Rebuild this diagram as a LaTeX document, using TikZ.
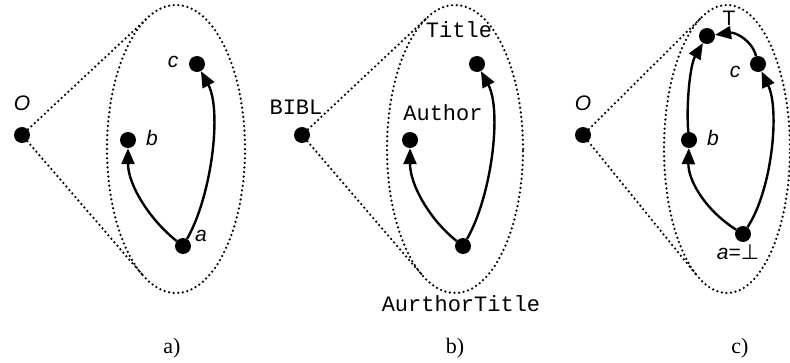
\documentclass[tikz,border=0pt]{standalone}
\usepackage{fontspec}
\setmainfont{Liberation Serif}
\newfontfamily\lsans{Liberation Sans}
\newfontfamily\lmono{Liberation Mono}
\newfontfamily\dvsans{DejaVu Sans}
\usetikzlibrary{shapes.geometric,arrows.meta}
\tikzset{
  dotnode/.style={circle, fill=black, inner sep=0pt, minimum size=16pt},
  dotline/.style={line width=2.5pt, dash pattern=on 0pt off 4.6pt, line cap=round},
  ell/.style={ellipse, draw, dotline, inner sep=0pt, outer sep=0pt, minimum height=288pt},
  arr/.style={line width=2.4pt, -{Triangle[length=16pt,width=13pt]}},
  lab/.style={inner sep=0pt, font=\lsans\itshape\fontsize{21}{21}\selectfont},
  ulab/.style={inner sep=0pt, font=\lsans\fontsize{21}{21}\selectfont},
  mono/.style={inner sep=0pt, font=\lmono\fontsize{22}{22}\selectfont},
  captxt/.style={inner sep=0pt, font=\fontsize{22}{22}\selectfont}
}
\begin{document}
\begin{tikzpicture}[x=1pt,y=-1pt]
\clip (0,0) rectangle (790,362);
% ---------- panel a ----------
\node[ell, minimum width=138pt] (Ea) at (176,149) {};
\node[dotnode] (Oa) at (22,135) {};
\node[dotnode] (aa) at (183,246) {};
\node[dotnode] (ba) at (128,140) {};
\node[dotnode] (ca) at (197,64) {};
\draw[dotline] (Oa) -- (Ea.102);
\draw[dotline] (Oa) -- (Ea.255);
\draw[arr] (aa) .. controls (150,220) and (128,185) .. (ba);
\draw[arr] (aa) .. controls (212,195) and (222,110) .. (ca);
\node[lab] (lOa) at (22,103) {O};
\node[lab] (laa) at (201,236) {a};
\node[lab] (lba) at (152,138) {b};
\node[lab] (lca) at (173,62) {c};
\node[captxt] (capa) at (172,348) {a)};
% ---------- panel b ----------
\node[ell, minimum width=136pt] (Eb) at (455,149) {};
\node[dotnode] (Ob) at (302,135) {};
\node[dotnode] (ab) at (463,246) {};
\node[dotnode] (bb) at (410,140) {};
\node[dotnode] (cb) at (477,64) {};
\draw[dotline] (Ob) -- (Eb.102);
\draw[dotline] (Ob) -- (Eb.255);
\draw[arr] (ab) .. controls (430,220) and (410,185) .. (bb);
\draw[arr] (ab) .. controls (492,195) and (502,110) .. (cb);
\node[mono] (lOb) at (296,107) {BIBL};
\node[mono] (lbb) at (443,113) {Author};
\node[mono] (lcb) at (459,30) {Title};
\node[mono] (lab) at (461,304) {AurthorTitle};
\node[captxt] (capb) at (455,348) {b)};
% ---------- panel c ----------
\node[ell, minimum width=126pt] (Ec) at (727,149) {};
\node[dotnode] (Oc) at (583,135) {};
\node[dotnode] (ac) at (743,234) {};
\node[dotnode] (bc) at (689,140) {};
\node[dotnode] (cc) at (758,64) {};
\node[dotnode] (tc) at (707,36) {};
\draw[dotline] (Oc) -- (Ec.101);
\draw[dotline] (Oc) -- (Ec.257);
\draw[arr] (ac) .. controls (705,210) and (688,180) .. (bc);
\draw[arr] (bc) .. controls (686,105) and (690,65) .. (tc);
\draw[arr] (ac) .. controls (772,190) and (780,110) .. (cc);
\draw[arr] (cc) .. controls (752,40) and (735,32) .. (tc);
\node[lab] (lOc) at (583,103) {O};
\node[ulab] (ltc) at (729,18) {T};
\node[lab] (lcc) at (735,72) {c};
\node[lab] (lbc) at (713,138) {b};
\node[inner sep=0pt, font=\fontsize{21}{21}\selectfont] (lac) at (738,252) {{\lsans\itshape a}{\lsans =}{\dvsans ⊥}};
\node[captxt] (capc) at (740,348) {c)};
\end{tikzpicture}
\end{document}
